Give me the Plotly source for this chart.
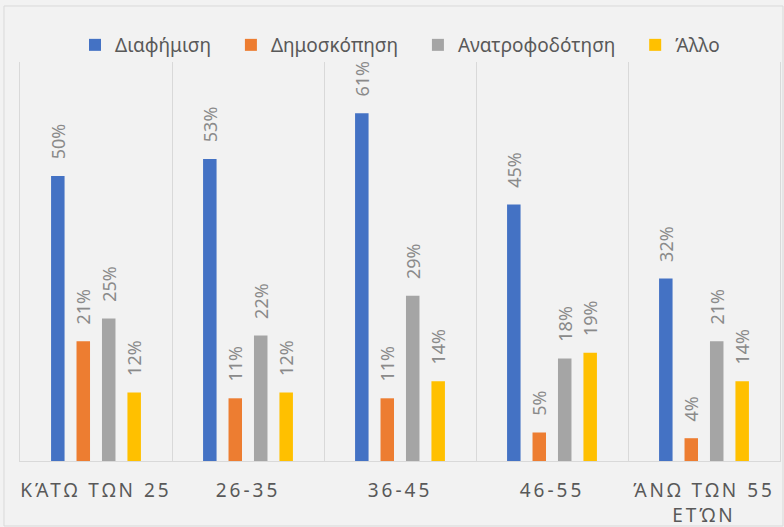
import plotly.graph_objects as go

categories = ["ΚΆΤΩ ΤΩΝ 25", "26-35", "36-45", "46-55", "ΆΝΩ ΤΩΝ 55 ΕΤΏΝ"]
tick_labels = ["ΚΆΤΩ ΤΩΝ 25", "26-35", "36-45", "46-55", "ΆΝΩ ΤΩΝ 55<br>ΕΤΏΝ"]
series_names = ["Διαφήμιση", "Δημοσκόπηση", "Ανατροφοδότηση", "Άλλο"]
diafimisi = [50, 53, 61, 45, 32]
dimoskopisi = [21, 11, 11, 5, 4]
anatrofodotisi = [25, 22, 29, 18, 21]
allo = [12, 12, 14, 19, 14]
colors = ["#4472C4", "#ED7D31", "#A5A5A5", "#FFC000"]

FONT = "Noto Sans"
TEXT = "#595959"
W, H = 784, 527
ML, MR, MT, MB = 20, 4, 62, 66

# extra trailing space between legend entries (not after the last one)
legend_names = [n + "\u00a0" * 3 if i < len(series_names) - 1 else n
                for i, n in enumerate(series_names)]

fig = go.Figure()
for name, vals, col in zip(legend_names, [diafimisi, dimoskopisi, anatrofodotisi, allo], colors):
    fig.add_trace(go.Bar(
        name=name, x=categories, y=[v / 100 for v in vals],
        marker=dict(color=col, line=dict(width=0)),
        text=["\u2002\u00a0" + f"{v}%" for v in vals],
        textposition="outside", textangle=-90, cliponaxis=False,
        textfont=dict(family=FONT, size=18, color="#8a8a8a"),
        constraintext="none", hoverinfo="skip",
    ))

pw = W - ML - MR
ph = H - MT - MB
fig.update_layout(
    width=W, height=H,
    margin=dict(l=ML, r=MR, t=MT, b=MB, autoexpand=False),
    paper_bgcolor="#F2F2F2", plot_bgcolor="#F2F2F2",
    barmode="group", bargap=0.33, bargroupgap=0.47,
    font=dict(family=FONT, color=TEXT),
    legend=dict(orientation="h", x=0.5, xanchor="center", y=1 + 17 / ph, yanchor="middle",
                font=dict(family=FONT, size=19, color=TEXT), bgcolor="rgba(0,0,0,0)",
                itemwidth=30, itemclick=False),
    xaxis=dict(
        tickmode="array", tickvals=categories,
        ticktext=[f'<span style="letter-spacing:3px">{t}</span>' for t in tick_labels],
        tickfont=dict(family=FONT, size=19, color=TEXT), tickangle=0,
        tickson="boundaries", ticks="", showgrid=True, gridcolor="#D9D9D9", gridwidth=1,
        showline=True, linecolor="#D9D9D9", linewidth=1, fixedrange=True,
        automargin=False, ticklabelstandoff=12,
    ),
    yaxis=dict(
        range=[0, 0.70], showgrid=False, zeroline=False, showticklabels=False,
        showline=True, mirror=True, linecolor="#D9D9D9", linewidth=1, ticks="",
        automargin=False, fixedrange=True,
    ),
    shapes=[dict(
        type="rect", xref="paper", yref="paper", layer="below",
        x0=-(ML - 4) / pw, x1=1 + (MR - 1) / pw,
        y0=-(MB - 1) / ph, y1=1 + (MT - 6) / ph,
        line=dict(color="#D9D9D9", width=1), fillcolor="rgba(0,0,0,0)",
    )],
)

fig.write_html("out.html", config={"displayModeBar": False},
               post_script="document.body.style.margin='0';document.body.style.background='#F2F2F2';")
